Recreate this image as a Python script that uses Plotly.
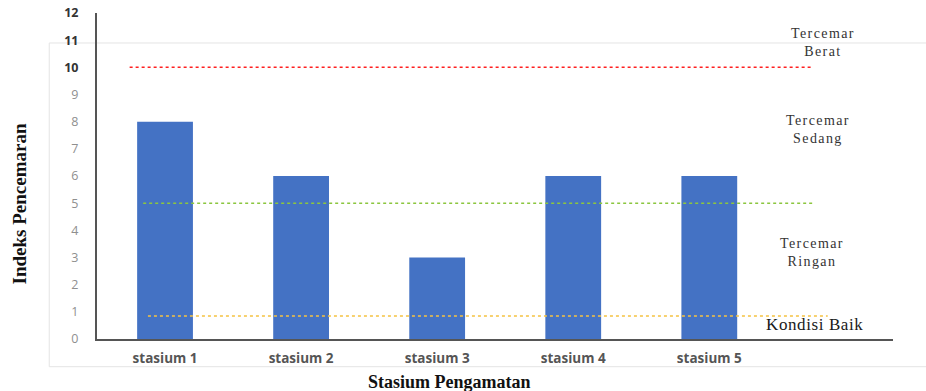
import plotly.graph_objects as go

stations = ["stasium 1", "stasium 2", "stasium 3", "stasium 4", "stasium 5"]
pollution_index = [8, 6, 3, 6, 6]
y_ticks = list(range(0, 13))
threshold_levels = [10, 5, 0.85]
threshold_colors = ["#ff2020", "#8cc63f", "#f5c242"]
threshold_extents = [(0.041, 0.898), (0.058, 0.902), (0.064, 0.918)]
zone_labels = ["Tercemar<br>Berat", "Tercemar<br>Sedang", "Tercemar<br>Ringan", "Kondisi Baik"]
zone_label_y = [10.9, 7.73, 3.17, 0.52]
zone_label_x = [0.912, 0.906, 0.898, 0.902]

dark_ticks = {10, 11, 12}
tick_text = [
    f"<span style='color:#333333'><b>{v}</b></span>" if v in dark_ticks
    else f"<span style='color:#8f8f8f'>{v}</span>"
    for v in y_ticks
]

fig = go.Figure()
fig.add_trace(go.Bar(
    x=list(range(len(stations))), y=pollution_index, width=0.41,
    marker=dict(color="#4472c4", line=dict(width=0)),
    showlegend=False,
))

shapes = [
    dict(type="rect", xref="paper", yref="paper", x0=-0.06, x1=1.05, y0=-0.085, y1=0.908,
         line=dict(color="#e4e4e4", width=1), fillcolor="rgba(0,0,0,0)", layer="below"),
]
for lvl, col, (x0, x1) in zip(threshold_levels, threshold_colors, threshold_extents):
    shapes.append(dict(type="line", xref="paper", yref="y", x0=x0, x1=x1, y0=lvl, y1=lvl,
                       line=dict(color=col, width=1.5, dash="dot")))

annotations = []
for txt, yy, xx in zip(zone_labels, zone_label_y, zone_label_x):
    big = txt == "Kondisi Baik"
    parts = txt.split("<br>")
    spaced = "<br>".join(f"<span style='letter-spacing:{0.6 if big else 1.4}px'>{p}</span>" for p in parts)
    annotations.append(dict(text=spaced, x=xx, y=yy, xref="paper", yref="y", showarrow=False,
                            font=dict(family="Liberation Serif", size=17 if big else 14,
                                      color="#1a1a1a" if big else "#333333"),
                            xanchor="center", yanchor="middle"))
annotations.append(dict(text="<b>Indeks Pencemaran</b>", x=-0.097, y=0.415, xref="paper", yref="paper",
                        textangle=-90, showarrow=False, xanchor="center", yanchor="middle",
                        font=dict(family="Liberation Serif", size=19, color="#111111")))
annotations.append(dict(text="<b>Stasium Pengamatan</b>", x=0.443, y=-0.133, xref="paper", yref="paper",
                        showarrow=False, yanchor="middle", xanchor="center",
                        font=dict(family="Liberation Serif", size=18, color="#111111")))
fig.update_layout(
    width=926, height=391,
    margin=dict(l=97, r=33, t=13, b=52),
    paper_bgcolor="white", plot_bgcolor="white",
    xaxis=dict(range=[-0.5, 5.35], tickmode="array", tickvals=list(range(len(stations))),
               ticktext=[f"<b>{s}</b>" for s in stations],
               tickfont=dict(family="Open Sans", size=13.5, color="#555555"),
               showline=True, linecolor="#555555", linewidth=2, showgrid=False, zeroline=False,
               ticks="", ticklabelstandoff=6, automargin=False),
    yaxis=dict(range=[0, 12], tickmode="array", tickvals=y_ticks, ticktext=tick_text,
               tickfont=dict(family="Open Sans", size=12.5, color="#8f8f8f"),
               showline=True, linecolor="#555555", linewidth=2, showgrid=False, zeroline=False,
               ticks="", ticklabelstandoff=14, automargin=False),
    shapes=shapes, annotations=annotations,
)
fig.write_html("out.html")
